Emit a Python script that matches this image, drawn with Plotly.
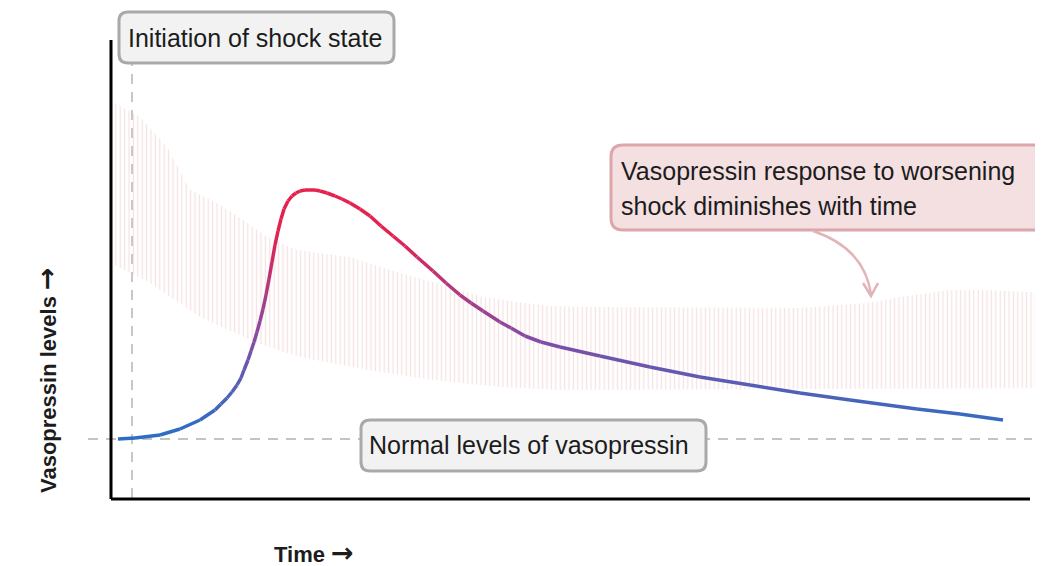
import plotly.graph_objects as go

# ---------------- data (arbitrary units) ----------------
# vasopressin response curve
curve_time = [7, 24, 49, 69, 89, 104, 110, 116, 121, 126, 130, 133, 137, 140, 143, 146, 149,
              152, 155, 158, 161, 164, 167, 170, 173, 177, 181, 185, 189, 194,
              199, 204, 209, 216, 224, 231, 239, 249, 259, 270, 282, 294, 306, 322, 335, 349,
              360, 372, 389, 400, 414, 430, 449, 489, 539, 589, 639, 689, 739, 806, 849, 892]
curve_level = [60, 61, 64, 70, 79, 89, 95, 101, 107, 114, 121, 129, 139, 148, 157, 167, 178,
               190, 204, 220, 237, 254, 268, 280, 290, 298, 303, 306, 308, 309,
               309, 309, 308, 306, 303, 300, 296, 290, 283, 273, 263, 253, 242, 228, 216, 204,
               196, 188, 177, 171, 163, 157, 152, 143, 132, 122, 114, 106, 99, 90, 85, 79]

# hatched band of expected response (upper and lower edges)
band_up_time = [4, 29, 56, 79, 106, 132, 156, 186, 239, 289, 339, 372, 406, 439, 489, 689,
                756, 789, 839, 872, 940]
band_up_level = [396, 382, 352, 309, 296, 279, 262, 249, 242, 226, 212, 202, 197, 193, 192,
                 191, 196, 202, 209, 209, 206]
band_lo_time = [4, 39, 89, 146, 189, 256, 322, 389, 449, 940]
band_lo_level = [234, 216, 182, 156, 142, 129, 119, 112, 109, 111]

normal_level = 60          # normal vasopressin level
shock_time = 21            # initiation of shock state
time_axis_end = 919
level_axis_end = 459

labels = {
    "shock": "Initiation of shock state",
    "normal": "Normal levels of vasopressin",
    "resp1": "Vasopressin response to worsening",
    "resp2": "shock diminishes with time",
    "ylab": "Vasopressin levels",
    "xlab": "Time",
}

# ---------------- figure ----------------
W, H = 1043, 566
OFF = 8                      # page body margin
XR = [-111 + OFF, 932 + OFF]
YR = [-67 - OFF, 499 - OFF]


def P(x, y):
    return (x - OFF) / W, 1 - (y - OFF) / H


def fmt(x, y):
    a, b = P(x, y)
    return f"{a:.5f},{b:.5f}"


def rrect(x0, y0, x1, y1, r):
    return (f"M {fmt(x0 + r, y0)} L {fmt(x1 - r, y0)} Q {fmt(x1, y0)} {fmt(x1, y0 + r)} "
            f"L {fmt(x1, y1 - r)} Q {fmt(x1, y1)} {fmt(x1 - r, y1)} "
            f"L {fmt(x0 + r, y1)} Q {fmt(x0, y1)} {fmt(x0, y1 - r)} "
            f"L {fmt(x0, y0 + r)} Q {fmt(x0, y0)} {fmt(x0 + r, y0)} Z")


def hex2rgb(h):
    h = h.lstrip('#')
    return [int(h[i:i + 2], 16) for i in (0, 2, 4)]


C_BLUE, C_MID, C_RED = hex2rgb('#2d6ec4'), hex2rgb('#8a4aa2'), hex2rgb('#e4224f')


def level_color(v):
    t = (v - 70) / (265 - 70)
    t = max(0.0, min(1.0, t))
    if t < 0.5:
        a, b, u = C_BLUE, C_MID, t / 0.5
    else:
        a, b, u = C_MID, C_RED, (t - 0.5) / 0.5
    c = [round(a[i] + (b[i] - a[i]) * u) for i in range(3)]
    return f"rgb({c[0]},{c[1]},{c[2]})"


fig = go.Figure()

# hatched band
fig.add_trace(go.Scatter(
    x=band_up_time + band_lo_time[::-1],
    y=band_up_level + band_lo_level[::-1],
    mode='lines', fill='toself', line=dict(width=0),
    fillcolor='rgba(0,0,0,0)',
    fillpattern=dict(shape='|', size=4.4, solidity=0.3, fgcolor='#eec5ca',
                     bgcolor='rgba(0,0,0,0)'),
    hoverinfo='skip'))

# normal level dashed line
fig.add_trace(go.Scatter(x=[-23, 921], y=[normal_level, normal_level], mode='lines',
                         line=dict(color='#c4c4c4', width=2, dash='10px,8px'),
                         hoverinfo='skip'))
# initiation of shock dashed line
fig.add_trace(go.Scatter(x=[shock_time, shock_time], y=[1, 436], mode='lines',
                         line=dict(color='#c8c8c8', width=2, dash='10px,8px'),
                         hoverinfo='skip'))

# gradient curve, segment by segment
for i in range(len(curve_time) - 1):
    v = (curve_level[i] + curve_level[i + 1]) / 2
    fig.add_trace(go.Scatter(x=curve_time[i:i + 2], y=curve_level[i:i + 2], mode='lines',
                             line=dict(color=level_color(v), width=3.5),
                             hoverinfo='skip'))

shapes = []
# axes
shapes.append(dict(type='line', xref='x', yref='y', x0=0, y0=0, x1=time_axis_end, y1=0,
                   line=dict(color='black', width=3)))
shapes.append(dict(type='line', xref='x', yref='y', x0=0, y0=0, x1=0, y1=level_axis_end,
                   line=dict(color='black', width=3)))
# label boxes
shapes.append(dict(type='path', xref='paper', yref='paper', path=rrect(119, 12, 394, 63, 9),
                   fillcolor='#f2f2f2', line=dict(color='#a9a9a9', width=3)))
shapes.append(dict(type='path', xref='paper', yref='paper', path=rrect(361, 420, 706, 471, 9),
                   fillcolor='#f2f2f2', line=dict(color='#a9a9a9', width=3)))
shapes.append(dict(type='path', xref='paper', yref='paper', path=rrect(611, 145, 1075, 230, 12),
                   fillcolor='#f4dfe1', line=dict(color='#dca6ab', width=3)))
# curved arrow
shapes.append(dict(type='path', xref='paper', yref='paper',
                   path=f"M {fmt(813, 231)} Q {fmt(864, 248)} {fmt(871, 294)}",
                   line=dict(color='#e2b3b7', width=2.5)))
shapes.append(dict(type='path', xref='paper', yref='paper',
                   path=f"M {fmt(863, 283)} L {fmt(871, 296)} L {fmt(878, 283)}",
                   line=dict(color='#e2b3b7', width=2.5)))

FONT = "Liberation Sans, Arial, sans-serif"
ARROW = "<span style='font-family:DejaVu Sans;font-size:27px'>\u2192</span>"
anns = []


def txt(text, px, py, size=25, **kw):
    x, y = P(px, py)
    d = dict(text=text, x=x, y=y, xref='paper', yref='paper', showarrow=False,
             xanchor='left', yanchor='middle', font=dict(family=FONT, size=size, color='#1c1c1c'))
    d.update(kw)
    anns.append(d)


txt(labels["shock"], 126, 38)
txt(labels["normal"], 367, 445)
txt(labels["resp1"], 619, 171)
txt(labels["resp2"], 619, 206)

xa, ya = P(46, 380)
anns.append(dict(text=f"<b>{labels['ylab']} {ARROW}</b>", x=xa, y=ya, xref='paper', yref='paper',
                 showarrow=False, textangle=-90, xanchor='center', yanchor='middle',
                 font=dict(family=FONT, size=22, color='#1c1c1c')))
xa, ya = P(272, 552)
anns.append(dict(text=f"<b>{labels['xlab']} {ARROW}</b>", x=xa, y=ya, xref='paper', yref='paper',
                 showarrow=False, xanchor='left', yanchor='middle',
                 font=dict(family=FONT, size=22, color='#1c1c1c')))

fig.update_layout(
    width=W, height=H, margin=dict(l=0, r=0, t=0, b=0),
    paper_bgcolor='white', plot_bgcolor='white', showlegend=False,
    xaxis=dict(range=XR, visible=False, fixedrange=True),
    yaxis=dict(range=YR, visible=False, fixedrange=True),
    shapes=shapes, annotations=anns,
)

fig.write_html("out.html")
